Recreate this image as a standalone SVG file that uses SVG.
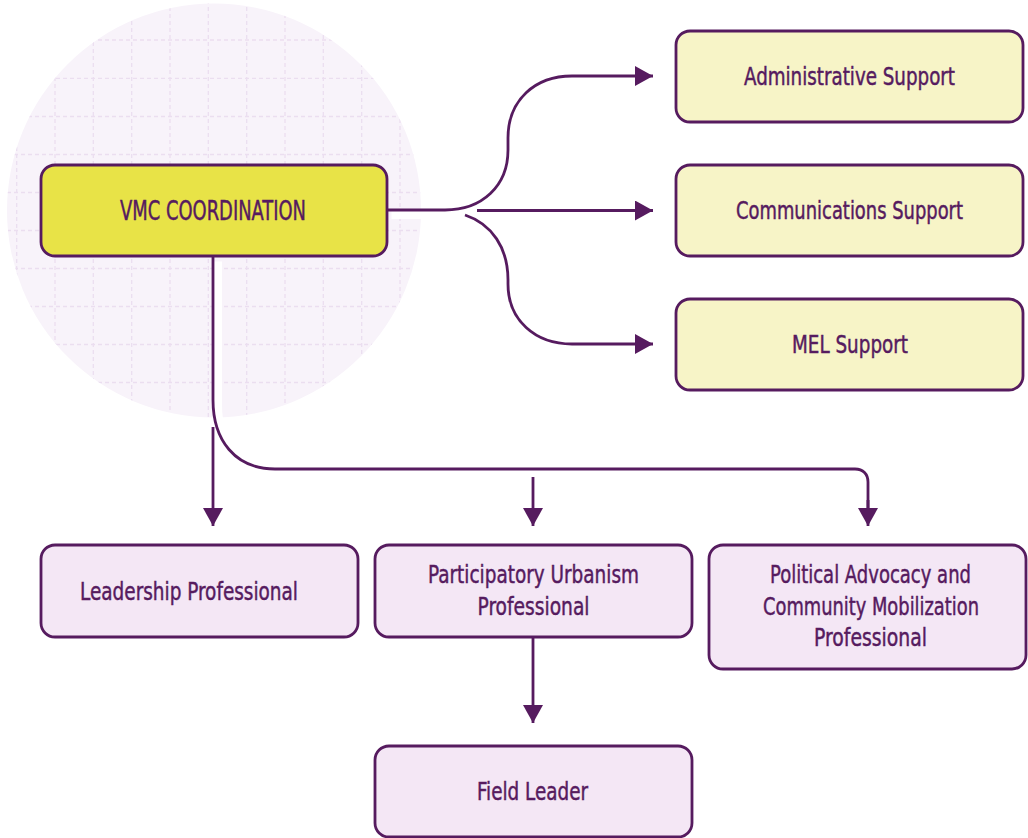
<svg xmlns="http://www.w3.org/2000/svg" width="1028" height="838" viewBox="0 0 1028 838">
  <defs>
    <style>
      .box { stroke: #561b5f; stroke-width: 2.8; }
      .lead { fill: #e8e347; }
      .support { fill: #f7f4c7; }
      .prof { fill: #f4e7f5; }
      .label { font-family: "Liberation Sans Narrow", "DejaVu Sans Condensed", "Liberation Sans", sans-serif; font-size: 24px; fill: #561b5f; stroke: #561b5f; stroke-width: 0.45; text-anchor: middle; }
      .title { font-size: 26px; }
      .wire { fill: none; stroke: #561b5f; stroke-width: 2.8; }
      .halo { fill: none; stroke: #ffffff; stroke-width: 9; }
      .grid line { stroke: #ebdef0; stroke-width: 1.3; stroke-dasharray: 4 3; }
    </style>
    <clipPath id="discClip">
      <circle cx="214" cy="210.5" r="207"/>
    </clipPath>
    <marker id="head" viewBox="0 0 18 20" refX="18" refY="10" markerWidth="18" markerHeight="20" markerUnits="userSpaceOnUse" orient="auto">
      <path d="M0,0 L18,10 L0,20 Z" fill="#561b5f"/>
    </marker>
  </defs>

  <rect width="1028" height="838" fill="#ffffff"/>

  <!-- backdrop disc with dashed grid -->
  <g id="backdrop">
    <circle cx="214" cy="210.5" r="207" fill="#f8f3fa"/>
    <g class="grid" clip-path="url(#discClip)">
      <line x1="16.7" y1="0" x2="16.7" y2="420"/>
      <line x1="55" y1="0" x2="55" y2="420"/>
      <line x1="93.3" y1="0" x2="93.3" y2="420"/>
      <line x1="131.7" y1="0" x2="131.7" y2="420"/>
      <line x1="170" y1="0" x2="170" y2="420"/>
      <line x1="208.3" y1="0" x2="208.3" y2="420"/>
      <line x1="246.7" y1="0" x2="246.7" y2="420"/>
      <line x1="285" y1="0" x2="285" y2="420"/>
      <line x1="323.3" y1="0" x2="323.3" y2="420"/>
      <line x1="361.7" y1="0" x2="361.7" y2="420"/>
      <line x1="400" y1="0" x2="400" y2="420"/>
      <line x1="0" y1="1.8" x2="430" y2="1.8"/>
      <line x1="0" y1="40" x2="430" y2="40"/>
      <line x1="0" y1="78.3" x2="430" y2="78.3"/>
      <line x1="0" y1="116.5" x2="430" y2="116.5"/>
      <line x1="0" y1="154.5" x2="430" y2="154.5"/>
      <line x1="0" y1="192.5" x2="430" y2="192.5"/>
      <line x1="0" y1="230.5" x2="430" y2="230.5"/>
      <line x1="0" y1="268.5" x2="430" y2="268.5"/>
      <line x1="0" y1="306.5" x2="430" y2="306.5"/>
      <line x1="0" y1="344.5" x2="430" y2="344.5"/>
      <line x1="0" y1="382.5" x2="430" y2="382.5"/>
    </g>
  </g>

  <!-- connectors -->
  <g id="connectors">
    <!-- white halo under the trunk lines where they cross the disc -->
    <g transform="translate(4.5,4.5)">
      <path class="halo" d="M387,210 H445"/>
      <path class="halo" d="M213,257 V400 C213,440 235,469 275,469"/>
    </g>
    <!-- to support units -->
    <path class="wire" marker-end="url(#head)" d="M387,210 H445 C482,210 508,186 508,150 V138 C508,100 535,76 572,76 H653"/>
    <path class="wire" marker-end="url(#head)" d="M477,210.5 H653"/>
    <path class="wire" marker-end="url(#head)" d="M465,215 C492,224 508,248 508,280 V284 C508,320 535,344 572,344 H653"/>
    <!-- to professionals -->
    <path class="wire" d="M213,257 V400 C213,440 235,469 275,469 H855 C863,469 868,474 868,482 V510"/>
    <path class="wire" marker-end="url(#head)" d="M213,427 V526"/>
    <path class="wire" marker-end="url(#head)" d="M533,477 V526"/>
    <path class="wire" marker-end="url(#head)" d="M868,500 V526"/>
    <path class="wire" marker-end="url(#head)" d="M533,637 V723"/>
  </g>

  <g id="vmc-coordination">
    <rect class="box lead" x="41" y="165" width="346" height="91" rx="14"/>
    <text class="label title" x="213" y="219.5" textLength="186" lengthAdjust="spacingAndGlyphs">VMC COORDINATION</text>
  </g>

  <g id="administrative-support">
    <rect class="box support" x="676" y="31" width="347" height="91" rx="14"/>
    <text class="label" x="849.5" y="85" textLength="211" lengthAdjust="spacingAndGlyphs">Administrative Support</text>
  </g>

  <g id="communications-support">
    <rect class="box support" x="676" y="165" width="347" height="91" rx="14"/>
    <text class="label" x="849.5" y="219" textLength="227" lengthAdjust="spacingAndGlyphs">Communications Support</text>
  </g>

  <g id="mel-support">
    <rect class="box support" x="676" y="299" width="347" height="91" rx="14"/>
    <text class="label" x="850" y="353" textLength="116" lengthAdjust="spacingAndGlyphs">MEL Support</text>
  </g>

  <g id="leadership-professional">
    <rect class="box prof" x="41" y="545" width="317" height="92" rx="14"/>
    <text class="label" x="189" y="600" textLength="218" lengthAdjust="spacingAndGlyphs">Leadership Professional</text>
  </g>

  <g id="participatory-urbanism-professional">
    <rect class="box prof" x="375" y="545" width="317" height="92" rx="14"/>
    <text class="label" x="533.5" y="583" textLength="211" lengthAdjust="spacingAndGlyphs">Participatory Urbanism</text>
    <text class="label" x="533.5" y="614.5" textLength="112" lengthAdjust="spacingAndGlyphs">Professional</text>
  </g>

  <g id="political-advocacy-professional">
    <rect class="box prof" x="709" y="545" width="317" height="124" rx="14"/>
    <text class="label" x="870.5" y="583" textLength="201" lengthAdjust="spacingAndGlyphs">Political Advocacy and</text>
    <text class="label" x="871" y="614.5" textLength="216" lengthAdjust="spacingAndGlyphs">Community Mobilization</text>
    <text class="label" x="870.5" y="646" textLength="113" lengthAdjust="spacingAndGlyphs">Professional</text>
  </g>

  <g id="field-leader">
    <rect class="box prof" x="375" y="746" width="317" height="91" rx="14"/>
    <text class="label" x="532.5" y="800" textLength="111" lengthAdjust="spacingAndGlyphs">Field Leader</text>
  </g>
</svg>
